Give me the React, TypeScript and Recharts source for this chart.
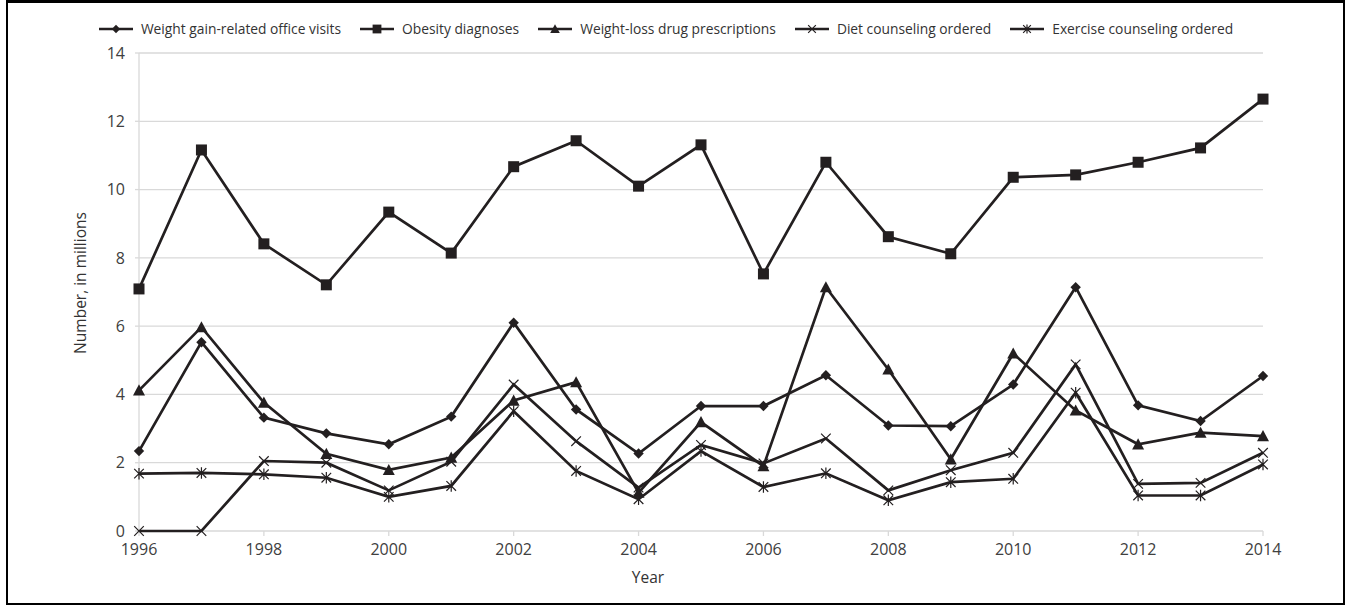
import { LineChart, Line, XAxis, YAxis, CartesianGrid, Legend, Label } from "recharts";

const years = [1996, 1997, 1998, 1999, 2000, 2001, 2002, 2003, 2004, 2005, 2006, 2007, 2008, 2009, 2010, 2011, 2012, 2013, 2014];
const weightGainVisits = [2.34, 5.53, 3.32, 2.86, 2.54, 3.35, 6.1, 3.56, 2.27, 3.66, 3.66, 4.56, 3.09, 3.07, 4.29, 7.14, 3.68, 3.22, 4.54];
const obesityDiagnoses = [7.09, 11.16, 8.41, 7.21, 9.34, 8.14, 10.67, 11.43, 10.1, 11.31, 7.53, 10.8, 8.62, 8.12, 10.36, 10.43, 10.8, 11.22, 12.65];
const weightLossDrugs = [4.12, 5.97, 3.76, 2.26, 1.79, 2.15, 3.82, 4.36, 1.12, 3.19, 1.9, 7.14, 4.73, 2.1, 5.2, 3.53, 2.54, 2.88, 2.78];
const dietCounseling = [0, 0, 2.05, 2.0, 1.19, 2.03, 4.29, 2.63, 1.27, 2.52, 1.98, 2.71, 1.19, 1.78, 2.29, 4.88, 1.38, 1.41, 2.29];
const exerciseCounseling = [1.68, 1.7, 1.66, 1.56, 1.0, 1.32, 3.51, 1.76, 0.93, 2.34, 1.29, 1.69, 0.9, 1.43, 1.53, 4.05, 1.04, 1.04, 1.95];
const xTicks = [1996, 1998, 2000, 2002, 2004, 2006, 2008, 2010, 2012, 2014];
const yTicks = [0, 2, 4, 6, 8, 10, 12, 14];

const series = [
  { key: "gain", name: "Weight gain-related office visits", shape: "diamond" },
  { key: "obesity", name: "Obesity diagnoses", shape: "square" },
  { key: "drugs", name: "Weight-loss drug prescriptions", shape: "triangle" },
  { key: "diet", name: "Diet counseling ordered", shape: "cross" },
  { key: "exercise", name: "Exercise counseling ordered", shape: "star" },
];

const rows = years.map((year, i) => ({
  year,
  gain: weightGainVisits[i],
  obesity: obesityDiagnoses[i],
  drugs: weightLossDrugs[i],
  diet: dietCounseling[i],
  exercise: exerciseCounseling[i],
}));

const INK = "#231f20";
const GRID = "#d9d9d9";
const FONT = "'Open Sans', sans-serif";

function Marker({ shape, cx, cy, s = 1 }: { shape: string; cx: number; cy: number; s?: number }) {
  if (cx == null || cy == null) return null;
  if (shape === "diamond") {
    const r = 5.2 * s;
    return <path d={`M${cx},${cy - r}L${cx + r},${cy}L${cx},${cy + r}L${cx - r},${cy}Z`} fill={INK} />;
  }
  if (shape === "square") {
    const r = 5.5 * s;
    return <rect x={cx - r} y={cy - r} width={2 * r} height={2 * r} fill={INK} />;
  }
  if (shape === "triangle") {
    const r = 6 * s;
    return <path d={`M${cx},${cy - r}L${cx + r},${cy + r * 0.85}L${cx - r},${cy + r * 0.85}Z`} fill={INK} />;
  }
  const r = 4.8 * s;
  const cross = `M${cx - r},${cy - r}L${cx + r},${cy + r}M${cx - r},${cy + r}L${cx + r},${cy - r}`;
  const d = shape === "star" ? `${cross}M${cx},${cy - r * 1.2}L${cx},${cy + r * 1.2}` : cross;
  return <path d={d} stroke={INK} strokeWidth={1.2} fill="none" />;
}

function renderLegend() {
  return (
    <div style={{ display: "flex", justifyContent: "center", paddingRight: 20, fontFamily: FONT, fontSize: 13.8, color: "#333" }}>
      {series.map((s, i) => (
        <div key={s.key} style={{ display: "flex", alignItems: "center", marginRight: i < series.length - 1 ? 18 : 0 }}>
          <svg width={36} height={14} style={{ marginRight: 7 }}>
            <line x1={1} y1={7} x2={35} y2={7} stroke={INK} strokeWidth={2.5} />
            <Marker shape={s.shape} cx={18} cy={7} s={0.8} />
          </svg>
          <span>{s.name}</span>
        </div>
      ))}
    </div>
  );
}

const yTitle = (props: any) => {
  const vb = props.viewBox;
  const x = vb.x + 72;
  const y = vb.y + vb.height / 2 - 9;
  return (
    <text x={x} y={y} transform={`rotate(-90 ${x} ${y})`} textAnchor="middle" dominantBaseline="central" fontFamily={FONT} fontSize={15.5} fill="#333">
      Number, in millions
    </text>
  );
};

const xTitle = (props: any) => {
  const vb = props.viewBox;
  const x = vb.x + vb.width / 2 - 53;
  const y = vb.y + 46;
  return (
    <text x={x} y={y} textAnchor="middle" dominantBaseline="central" fontFamily={FONT} fontSize={15.5} fill="#333">
      Year
    </text>
  );
};

export default function App() {
  return (
    <div
      style={{
        position: "absolute",
        left: 6,
        top: 0,
        width: 1339,
        height: 605,
        boxSizing: "border-box",
        border: "2px solid #000",
        borderTopWidth: 3,
        background: "#fff",
      }}
    >
      <LineChart width={1335} height={600} data={rows} margin={{ top: 20, right: 80, left: 0, bottom: 0 }}>
        <CartesianGrid vertical={false} stroke={GRID} strokeWidth={1.3} />
        <XAxis
          dataKey="year"
          type="number"
          domain={[1996, 2014]}
          ticks={xTicks}
          height={72}
          tickSize={5}
          tickMargin={8}
          axisLine={false}
          tickLine={{ stroke: GRID, strokeWidth: 1.3 }}
          tick={{ fill: "#404040", fontSize: 16, fontFamily: FONT }}
        >
          <Label content={xTitle} />
        </XAxis>
        <YAxis
          domain={[0, 14]}
          ticks={yTicks}
          width={131}
          tickSize={4}
          tickMargin={10}
          axisLine={{ stroke: GRID, strokeWidth: 1.3 }}
          tickLine={{ stroke: GRID, strokeWidth: 1.3 }}
          tick={{ fill: "#404040", fontSize: 16, fontFamily: FONT }}
        >
          <Label content={yTitle} />
        </YAxis>
        <Legend verticalAlign="top" height={30} content={renderLegend} wrapperStyle={{ top: 16, left: 0, width: 1335 }} />
        {series.map((s) => (
          <Line
            key={s.key}
            dataKey={s.key}
            name={s.name}
            type="linear"
            stroke={INK}
            strokeWidth={2.7}
            isAnimationActive={false}
            activeDot={false}
            dot={(p: any) => <Marker key={`${s.key}-${p.index}`} shape={s.shape} cx={p.cx} cy={p.cy} />}
          />
        ))}
      </LineChart>
    </div>
  );
}
